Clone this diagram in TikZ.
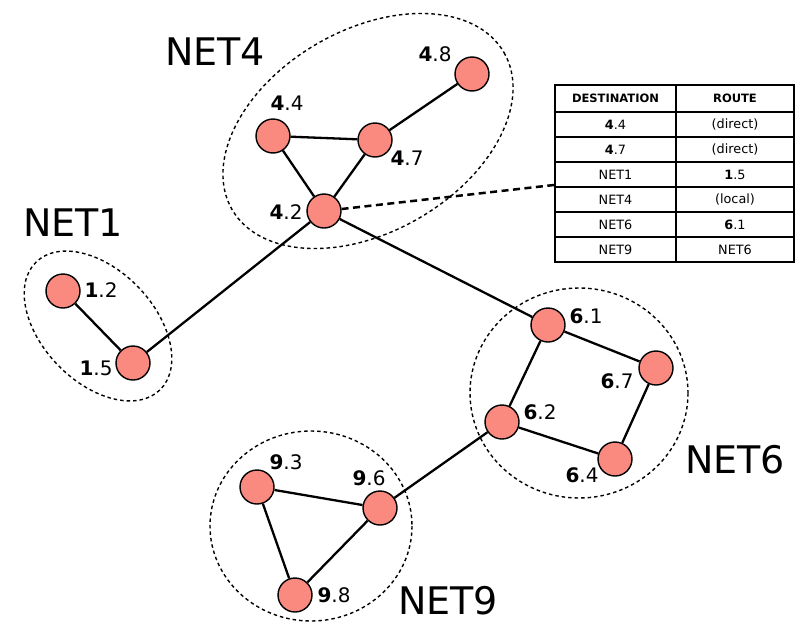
\documentclass[tikz,border=0pt]{standalone}
\usepackage{fontspec}
\setmainfont{DejaVu Sans}
\definecolor{salmonfill}{RGB}{250,137,128}
\newcommand\lab[2]{\textbf{#1}.#2}
\begin{document}
\begin{tikzpicture}[x=1pt,y=-1pt,
  host/.style={circle,draw=black,line width=1.4pt,fill=salmonfill,minimum size=34pt,inner sep=0pt},
  hlabel/.style={inner sep=0pt,font=\fontsize{20}{20}\selectfont},
  netlabel/.style={inner sep=0pt,font=\fontsize{38}{38}\selectfont},
  link/.style={line width=2.3pt},
  netarea/.style={draw=black,line width=1.4pt,dash pattern=on 3.5pt off 3pt},
  tcell/.style={draw=black,line width=2.5pt,inner sep=0pt,minimum height=25pt,font=\fontsize{12.8}{12.8}\selectfont},
  thead/.style={tcell,minimum height=27pt,font=\fontsize{11.5}{11.5}\selectfont\bfseries}
]
\useasboundingbox (0,0) rectangle (805,624);

% network areas
\draw[netarea] (368,131) ellipse[x radius=157,y radius=101,rotate=30];
\draw[netarea] (98,326) ellipse[x radius=89,y radius=56,rotate=-46];
\draw[netarea] (579,393) ellipse[x radius=109,y radius=105];
\draw[netarea] (311,526) ellipse[x radius=101,y radius=95];

% hosts
\node[host] (n48) at (472,74) {};
\node[host] (n44) at (273,136) {};
\node[host] (n47) at (375,140) {};
\node[host] (n42) at (324,211) {};
\node[host] (n12) at (63,291) {};
\node[host] (n15) at (133,363) {};
\node[host] (n61) at (548,325) {};
\node[host] (n67) at (656,368) {};
\node[host] (n62) at (502,422) {};
\node[host] (n64) at (615,459) {};
\node[host] (n93) at (257,487) {};
\node[host] (n96) at (380,508) {};
\node[host] (n98) at (295,595) {};

% links
\draw[link] (n48) -- (n47);
\draw[link] (n44) -- (n47);
\draw[link] (n44) -- (n42);
\draw[link] (n47) -- (n42);
\draw[link] (n42) -- (n15);
\draw[link] (n12) -- (n15);
\draw[link] (n42) -- (n61);
\draw[link] (n61) -- (n67);
\draw[link] (n61) -- (n62);
\draw[link] (n67) -- (n64);
\draw[link] (n62) -- (n64);
\draw[link] (n62) -- (n96);
\draw[link] (n93) -- (n96);
\draw[link] (n93) -- (n98);
\draw[link] (n96) -- (n98);

% host labels
\node[hlabel] (l48) at (435,54) {\lab{4}{8}};
\node[hlabel] (l44) at (287,103) {\lab{4}{4}};
\node[hlabel] (l47) at (407,158) {\lab{4}{7}};
\node[hlabel] (l42) at (286,212) {\lab{4}{2}};
\node[hlabel] (l12) at (101,290) {\lab{1}{2}};
\node[hlabel] (l15) at (96,368) {\lab{1}{5}};
\node[hlabel] (l61) at (586,316) {\lab{6}{1}};
\node[hlabel] (l67) at (617,381) {\lab{6}{7}};
\node[hlabel] (l62) at (540,412) {\lab{6}{2}};
\node[hlabel] (l64) at (582,475) {\lab{6}{4}};
\node[hlabel] (l93) at (286,462) {\lab{9}{3}};
\node[hlabel] (l96) at (369,478) {\lab{9}{6}};
\node[hlabel] (l98) at (334,595) {\lab{9}{8}};

% net labels
\node[netlabel] (net4) at (215,52) {NET4};
\node[netlabel] (net1) at (73,223) {NET1};
\node[netlabel] (net6) at (735,460) {NET6};
\node[netlabel] (net9) at (448,601) {NET9};

% routing table
\node[thead,minimum width=121pt] (h1) at (615.5,98.5) {DESTINATION};
\node[thead,minimum width=118pt] (h2) at (735,98.5) {ROUTE};
\node[tcell,minimum width=121pt] (a1) at (615.5,124.5) {\lab{4}{4}};
\node[tcell,minimum width=118pt] (a2) at (735,124.5) {(direct)};
\node[tcell,minimum width=121pt] (b1) at (615.5,149.5) {\lab{4}{7}};
\node[tcell,minimum width=118pt] (b2) at (735,149.5) {(direct)};
\node[tcell,minimum width=121pt] (c1) at (615.5,174.5) {NET1};
\node[tcell,minimum width=118pt] (c2) at (735,174.5) {\lab{1}{5}};
\node[tcell,minimum width=121pt] (d1) at (615.5,199.5) {NET4};
\node[tcell,minimum width=118pt] (d2) at (735,199.5) {(local)};
\node[tcell,minimum width=121pt] (e1) at (615.5,224.5) {NET6};
\node[tcell,minimum width=118pt] (e2) at (735,224.5) {\lab{6}{1}};
\node[tcell,minimum width=121pt] (f1) at (615.5,249.5) {NET9};
\node[tcell,minimum width=118pt] (f2) at (735,249.5) {NET6};

% pointer to table
\coordinate (tblin) at (554,185);
\draw[line width=2.5pt,dash pattern=on 7pt off 4.5pt] (n42) -- (tblin);
\end{tikzpicture}
\end{document}
